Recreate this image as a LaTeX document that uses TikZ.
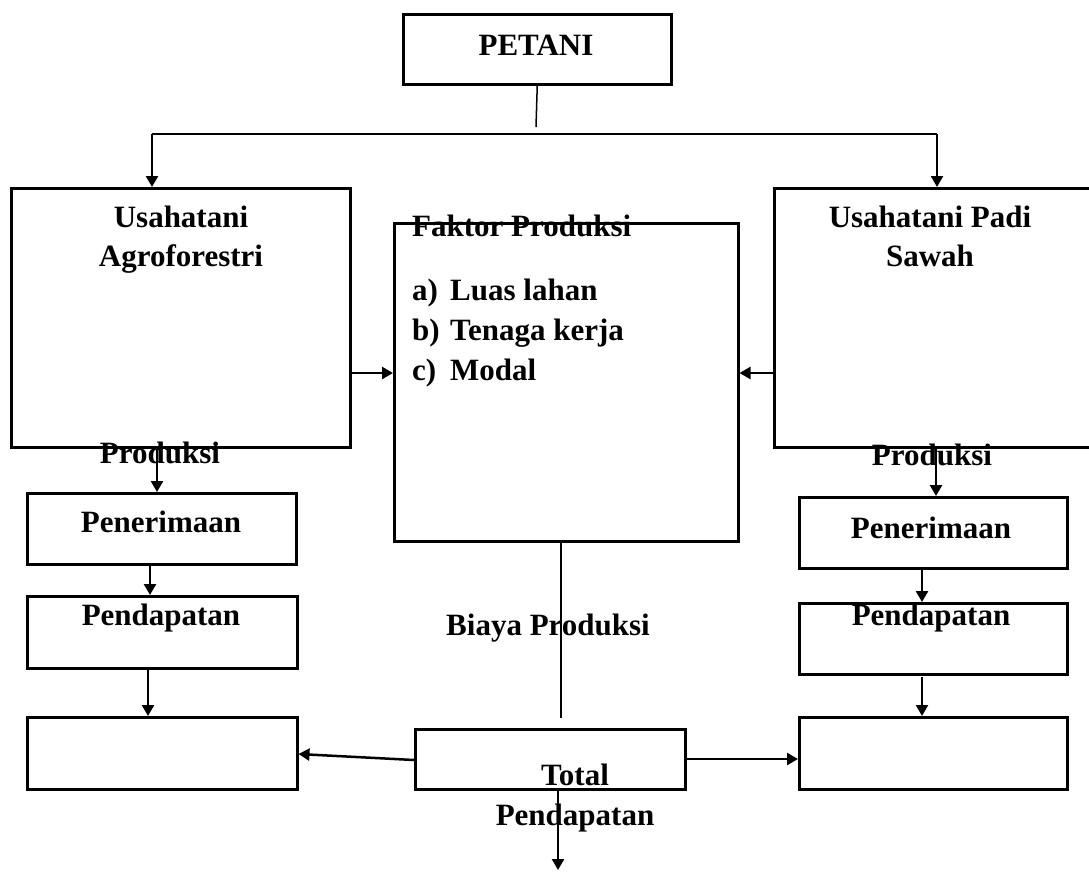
\documentclass[tikz,border=0pt]{standalone}
\usepackage{fontspec}
\setmainfont{Liberation Serif}
\usetikzlibrary{arrows.meta}
\begin{document}
\begin{tikzpicture}[x=1pt,y=-1pt,
  box/.style={draw,line width=2.5pt,inner sep=0pt,anchor=north west},
  lbl/.style={inner sep=0pt,anchor=base,font=\fontsize{31}{40}\selectfont\bfseries},
  lbll/.style={inner sep=0pt,anchor=base west,font=\fontsize{31}{40}\selectfont\bfseries},
  conn/.style={line width=2.5pt},
  thin/.style={line width=1.5pt},
  arr/.style={line width=2.5pt,-{Triangle[length=11pt,width=12pt]}}]
\useasboundingbox (0,0) rectangle (1089,871);
\clip (0,0) rectangle (1089,871);
% boxes
\node[box,minimum width=268pt,minimum height=70pt] (petani) at (402,13) {};
\node[box,minimum width=339pt,minimum height=259pt] (agro) at (10,187) {};
\node[box,minimum width=330pt,minimum height=259pt] (padi) at (773,187) {};
\node[box,minimum width=344pt,minimum height=318pt] (faktor) at (393,222) {};
\node[box,minimum width=269pt,minimum height=71pt] (pen1) at (26,492) {};
\node[box,minimum width=268pt,minimum height=71pt] (pen2) at (798,496) {};
\node[box,minimum width=270pt,minimum height=72pt] (pd1) at (26,595) {};
\node[box,minimum width=268pt,minimum height=71pt] (pd2) at (798,602) {};
\node[box,minimum width=270pt,minimum height=72pt] (e1) at (26,716) {};
\node[box,minimum width=268pt,minimum height=72pt] (e2) at (798,716) {};
\node[box,minimum width=270pt,minimum height=60pt] (total) at (414,728) {};
% labels
\node[lbl] (tpetani) at (536,55) {PETANI};
\node[lbl] (tagro1) at (181,227) {Usahatani};
\node[lbl] (tagro2) at (181,266) {Agroforestri};
\node[lbl] (tpadi1) at (930,227) {Usahatani Padi};
\node[lbl] (tpadi2) at (930,266) {Sawah};
\node[lbll] (tfak) at (412,236) {Faktor Produksi};
\node[lbll] (ta) at (412,300) {a)};
\node[lbll] (tb) at (412,340) {b)};
\node[lbll] (tc) at (412,380) {c)};
\node[lbll] (ta2) at (450,300) {Luas lahan};
\node[lbll] (tb2) at (450,340) {Tenaga kerja};
\node[lbll] (tc2) at (450,380) {Modal};
\node[lbl] (tprod1) at (160,463) {Produksi};
\node[lbl] (tprod2) at (932,465) {Produksi};
\node[lbl] (tpen1) at (161,532) {Penerimaan};
\node[lbl] (tpen2) at (931,538) {Penerimaan};
\node[lbl] (tpd1) at (161,625) {Pendapatan};
\node[lbl] (tpd2) at (931,625) {Pendapatan};
\node[lbl] (tbiaya) at (548,635) {Biaya Produksi};
\node[lbl] (ttot1) at (575,785) {Total};
\node[lbl] (ttot2) at (575,825) {Pendapatan};
% coordinates
\coordinate (jt) at (536,127);
\coordinate (hl) at (152,134);
\coordinate (hr) at (937,134);
\coordinate (ym) at (0,373);
\coordinate (cb) at (561,718);
\coordinate (down) at (558,870);
% connectors
\draw[thin] (petani.south) -- (jt);
\draw[conn] (hl) -- (hr);
\draw[arr] (hl) -- (hl |- agro.north);
\draw[arr] (hr) -- (hr |- padi.north);
\draw[arr] (agro.east |- ym) -- (faktor.west |- ym);
\draw[arr] (padi.west |- ym) -- (faktor.east |- ym);
\draw[arr] (agro.south -| 157,0) -- (pen1.north -| 157,0);
\draw[arr] (padi.south -| 936,0) -- (pen2.north -| 936,0);
\draw[arr] (pen1.south -| 150,0) -- (pd1.north -| 150,0);
\draw[arr] (pen2.south -| 922,0) -- (pd2.north -| 922,0);
\draw[arr] (pd1.south -| 148,0) -- (e1.north -| 148,0);
\draw[arr] (922,677) -- (e2.north -| 922,0);
\draw[thin] (faktor.south -| cb) -- (cb);
\draw[arr] (total.west |- 0,760) -- (e1.east |- 0,754);
\draw[arr] (total.east |- 0,759) -- (e2.west |- 0,759);
\draw[arr] (total.south -| down) -- (down);
\end{tikzpicture}
\end{document}
